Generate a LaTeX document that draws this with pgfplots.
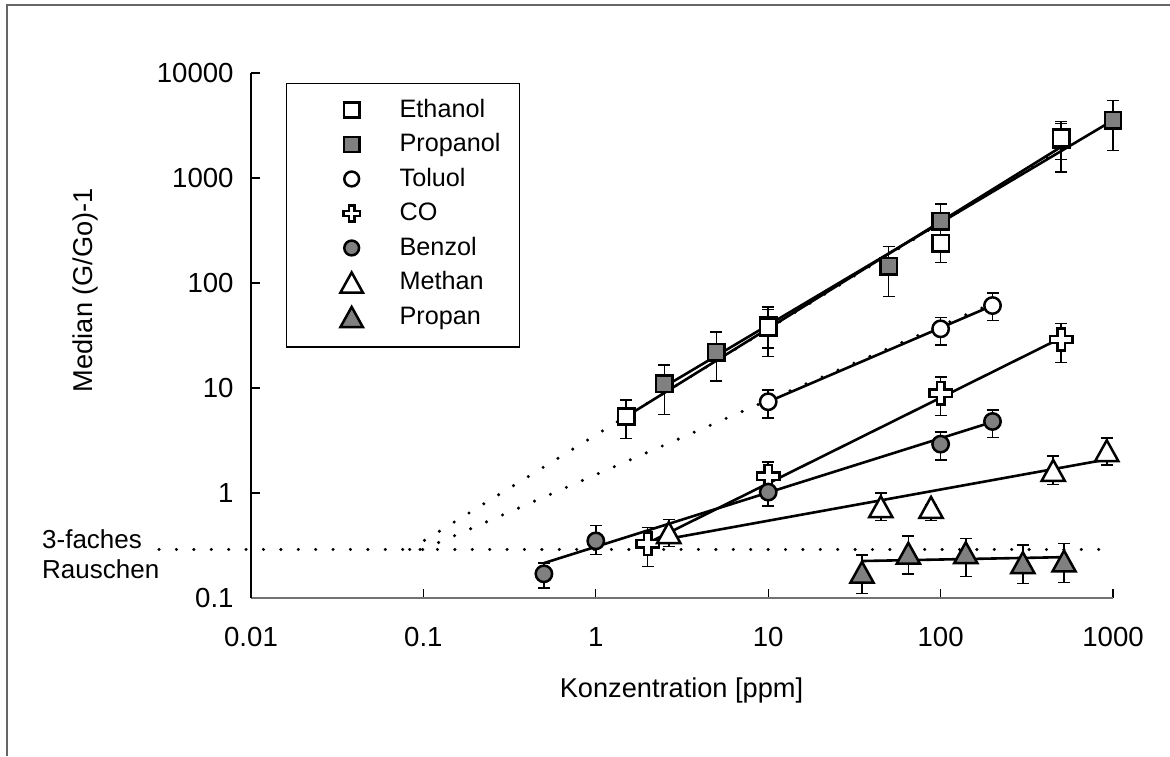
\documentclass[border=0pt]{standalone}
\usepackage{pgfplots}
\pgfplotsset{compat=1.18}
\usepackage{fontspec}
\setmainfont{Liberation Sans}
\definecolor{mkgray}{RGB}{128,128,128}

% thick "plus" marker with open arms
\pgfdeclareplotmark{fatplus}{%
 \pgfpathmoveto{\pgfqpoint{-0.33\pgfplotmarksize}{\pgfplotmarksize}}%
 \pgfpathlineto{\pgfqpoint{0.33\pgfplotmarksize}{\pgfplotmarksize}}%
 \pgfpathlineto{\pgfqpoint{0.33\pgfplotmarksize}{0.33\pgfplotmarksize}}%
 \pgfpathlineto{\pgfqpoint{\pgfplotmarksize}{0.33\pgfplotmarksize}}%
 \pgfpathlineto{\pgfqpoint{\pgfplotmarksize}{-0.33\pgfplotmarksize}}%
 \pgfpathlineto{\pgfqpoint{0.33\pgfplotmarksize}{-0.33\pgfplotmarksize}}%
 \pgfpathlineto{\pgfqpoint{0.33\pgfplotmarksize}{-\pgfplotmarksize}}%
 \pgfpathlineto{\pgfqpoint{-0.33\pgfplotmarksize}{-\pgfplotmarksize}}%
 \pgfpathlineto{\pgfqpoint{-0.33\pgfplotmarksize}{-0.33\pgfplotmarksize}}%
 \pgfpathlineto{\pgfqpoint{-\pgfplotmarksize}{-0.33\pgfplotmarksize}}%
 \pgfpathlineto{\pgfqpoint{-\pgfplotmarksize}{0.33\pgfplotmarksize}}%
 \pgfpathlineto{\pgfqpoint{-0.33\pgfplotmarksize}{0.33\pgfplotmarksize}}%
 \pgfpathclose\pgfusepathqfillstroke}

% triangle centred on its bounding box
\pgfdeclareplotmark{boxtri}{%
 \pgfpathmoveto{\pgfqpoint{0pt}{0.9\pgfplotmarksize}}%
 \pgfpathlineto{\pgfqpoint{\pgfplotmarksize}{-0.9\pgfplotmarksize}}%
 \pgfpathlineto{\pgfqpoint{-\pgfplotmarksize}{-0.9\pgfplotmarksize}}%
 \pgfpathclose\pgfusepathqfillstroke}

\pgfplotsset{
 ebar/.style={error bars/y dir=both, error bars/y explicit,
   error bars/error mark=|,
   error bars/error bar style={line width=0.75pt, black},
   error bars/error mark options={line width=0.75pt, black, mark size=3pt}},
 fitline/.style={no marks, black, line width=1.3pt},
 dotline/.style={no marks, black, line width=1.7pt, line cap=round, dash pattern=on 0pt off 8.7pt},
 opensq/.style={only marks, mark=square*, mark size=4.1pt, mark options={fill=white, draw=black, line width=1.25pt}},
 graysq/.style={only marks, mark=square*, mark size=4.1pt, mark options={fill=mkgray, draw=black, line width=1.25pt}},
 opencirc/.style={only marks, mark=*, mark size=4.1pt, mark options={fill=white, draw=black, line width=1.25pt}},
 graycirc/.style={only marks, mark=*, mark size=4.1pt, mark options={fill=mkgray, draw=black, line width=1.25pt}},
 opencross/.style={only marks, mark=fatplus, mark size=5.6pt, mark options={fill=white, draw=black, line width=1.25pt, line join=miter}},
 opentri/.style={only marks, mark=boxtri, mark size=5.8pt, mark options={fill=white, draw=black, line width=1.25pt, line join=miter}},
 graytri/.style={only marks, mark=boxtri, mark size=5.8pt, mark options={fill=mkgray, draw=black, line width=1.25pt, line join=miter}},
 legmark/.style={legend image code/.code={%
   \path[draw=none, fill=none] (-32.5pt,-6pt) rectangle (24pt,9.5pt);
   \draw[##1] plot coordinates {(0pt,1.8pt)};}},
}

\begin{document}
\begin{tikzpicture}
\useasboundingbox (0,0) rectangle (585pt,378pt);
\draw[line width=1pt, black!60] (3.4pt,0pt) -- (3.4pt,375.3pt) -- (585pt,375.3pt);
\begin{axis}[
  at={(125.5pt,79pt)}, anchor=south west,
  scale only axis, width=431pt, height=262.5pt,
  xmode=log, ymode=log,
  xmin=0.01, xmax=1000, ymin=0.1, ymax=10000,
  axis lines*=left,
  x axis line style={-, draw=black!55, line width=1pt},
  y axis line style={-, draw=black, line width=0.75pt},
  tick align=inside, major tick length=4.5pt,
  tick style={black, line width=0.6pt},
  xminorticks=false, yminorticks=false,
  xtick={0.01,0.1,1,10,100,1000},
  xticklabels={0.01,0.1,1,10,100,1000},
  ytick={0.1,1,10,100,1000,10000},
  yticklabels={0.1,1,10,100,1000,10000},
  tick label style={font=\fontsize{13.8}{16}\selectfont},
  xticklabel style={anchor=north, inner sep=0pt, yshift=-14.5pt},
  yticklabel style={anchor=east, inner sep=0pt, xshift=-8.5pt},
  xlabel={Konzentration [ppm]},
  ylabel={Median (G/Go)-1},
  label style={font=\fontsize{13.6}{16}\selectfont},
  xlabel style={at={(rel axis cs:0.4994,-0.1752)}, anchor=center},
  ylabel style={at={(rel axis cs:-0.1916,0.5867)}, anchor=center},
  clip=false,
  legend cell align=left,
  legend style={at={(rel axis cs:0.0407,0.981)}, anchor=north west,
    draw=black, line width=0.6pt, fill=white,
    inner xsep=0pt, inner ysep=5.5pt, row sep=0pt, column sep=0pt,
    font=\fontsize{12.6}{15}\selectfont,
    nodes={inner sep=0pt, text height=9.5pt, text depth=6pt}},
]

% three-fold noise level
\addplot[dotline, forget plot] coordinates {(0.00293,0.29) (1000,0.29)};
% extrapolations of the fits down to the noise level
\addplot[dotline, forget plot] coordinates {(0.0833,0.29) (500,1900)};
\addplot[dotline, forget plot] coordinates {(0.099,0.29) (200,64)};

% power-law fits
\addplot[fitline, forget plot] coordinates {(1.5,5.35) (500,1977)};
\addplot[fitline, forget plot] coordinates {(2.5,10.3) (1000,3548)};
\addplot[fitline, forget plot] coordinates {(10,7.4) (200,61)};
\addplot[fitline, forget plot] coordinates {(2,0.333) (500,30)};
\addplot[fitline, forget plot] coordinates {(0.5,0.215) (200,4.75)};
\addplot[fitline, forget plot] coordinates {(2.65,0.367) (1000,2.14)};
\addplot[fitline, forget plot] coordinates {(35,0.225) (520,0.245)};

% Propanol
\addplot[graysq, forget plot, ebar] coordinates {
 (2.5,11) += (0,5.6) -= (0,5.4)
 (5,22) += (0,12) -= (0,10.3)
 (10,39) += (0,17) -= (0,15)
 (50,144) += (0,79) -= (0,70)
 (100,386) += (0,180) -= (0,96)
 (500,2300) += (0,1000) -= (0,804)
 (1000,3548) += (0,1922) -= (0,1724)
};
% Ethanol
\addplot[opensq, forget plot, ebar] coordinates {
 (1.5,5.35) += (0,2.35) -= (0,2.05)
 (10,38) += (0,21) -= (0,18)
 (100,240) += (0,90) -= (0,83)
 (500,2411) += (0,1060) -= (0,1268)
};
% Toluol
\addplot[opencirc, forget plot, ebar] coordinates {
 (10,7.4) += (0,2.2) -= (0,2.2)
 (100,36.6) += (0,10.4) -= (0,10.9)
 (200,61) += (0,19) -= (0,17)
};
% CO
\addplot[opencross, forget plot, ebar] coordinates {
 (2,0.33) += (0,0.14) -= (0,0.13)
 (10,1.44) += (0,0.53) -= (0,0.34)
 (100,8.9) += (0,3.9) -= (0,3.4)
 (500,29) += (0,12) -= (0,11.5)
};
% Benzol
\addplot[graycirc, forget plot, ebar] coordinates {
 (0.5,0.17) += (0,0.046) -= (0,0.046)
 (1,0.35) += (0,0.14) -= (0,0.09)
 (10,1.02) += (0,0.3) -= (0,0.27)
 (100,2.92) += (0,0.88) -= (0,0.85)
 (200,4.8) += (0,1.4) -= (0,1.43)
};
% Methan
\addplot[opentri, forget plot, ebar] coordinates {
 (2.65,0.42) += (0,0.14) -= (0,0.11)
 (45,0.74) += (0,0.26) -= (0,0.19)
 (88,0.73) += (0,0.05) -= (0,0.18)
 (450,1.64) += (0,0.6) -= (0,0.43)
 (920,2.53) += (0,0.82) -= (0,0.69)
};
% Propan
\addplot[graytri, forget plot, ebar] coordinates {
 (35,0.176) += (0,0.081) -= (0,0.066)
 (65,0.267) += (0,0.123) -= (0,0.097)
 (140,0.27) += (0,0.10) -= (0,0.11)
 (300,0.217) += (0,0.103) -= (0,0.079)
 (520,0.225) += (0,0.105) -= (0,0.085)
};

\addlegendimage{legmark, opensq, mark size=3.8pt}
\addlegendentry{\makebox[60pt][l]{Ethanol}}
\addlegendimage{legmark, graysq, mark size=3.8pt}
\addlegendentry{\makebox[60pt][l]{Propanol}}
\addlegendimage{legmark, opencirc, mark size=3.7pt}
\addlegendentry{\makebox[60pt][l]{Toluol}}
\addlegendimage{legmark, opencross, mark size=4.1pt}
\addlegendentry{\makebox[60pt][l]{CO}}
\addlegendimage{legmark, graycirc, mark size=3.7pt}
\addlegendentry{\makebox[60pt][l]{Benzol}}
\addlegendimage{legmark, opentri, mark size=5.6pt}
\addlegendentry{\makebox[60pt][l]{Methan}}
\addlegendimage{legmark, graytri, mark size=5.6pt}
\addlegendentry{\makebox[60pt][l]{Propan}}

\node[anchor=west, align=left, inner sep=0pt, font=\fontsize{13}{15}\selectfont]
  at (rel axis cs:-0.2427,0.0838) {3-faches\\Rauschen};
\end{axis}
\end{tikzpicture}
\end{document}
